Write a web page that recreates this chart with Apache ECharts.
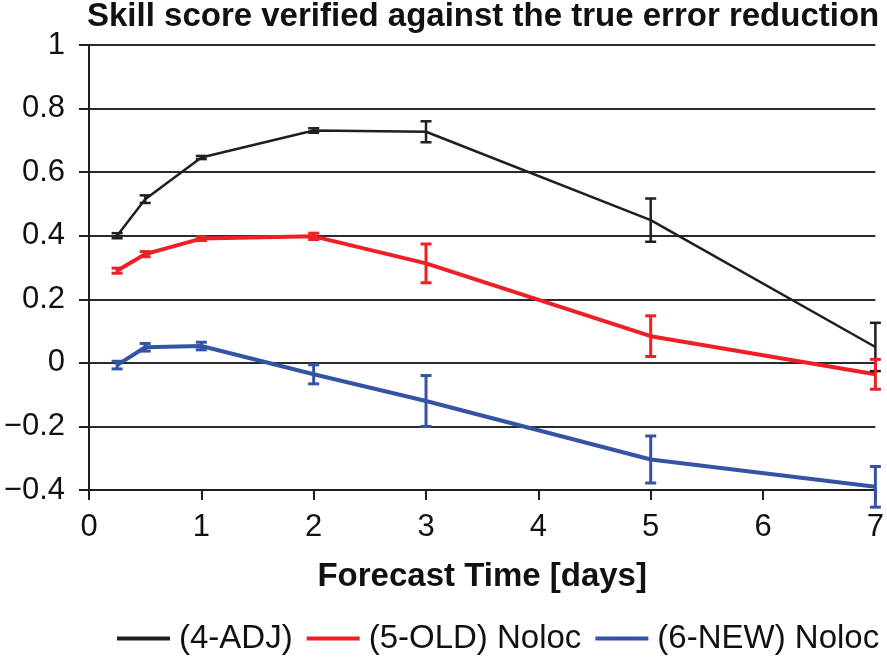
<!DOCTYPE html>
<html>
<head>
<meta charset="utf-8">
<script src="https://cdn.jsdelivr.net/npm/echarts@6/dist/echarts.min.js"></script>
<style>
  html, body { margin: 0; padding: 0; background: #fff; }
  #chart { width: 887px; height: 659px; }
</style>
</head>
<body>
<div id="chart"></div>
<script>
// 预报时间 (days)
const days = [0.25, 0.5, 1, 2, 3, 5, 7];
const seriesNames = ['(4-ADJ)', '(5-OLD) Noloc', '(6-NEW) Noloc'];
const colors = ['#1f1f1f', '#ee1f25', '#3453a4'];
const lineWidths = [2.5, 4, 4];

// skill score values
const adj = [0.40, 0.515, 0.646, 0.731, 0.727, 0.449, 0.05];
const oldNoloc = [0.29, 0.342, 0.391, 0.398, 0.313, 0.084, -0.036];
const newNoloc = [-0.007, 0.049, 0.053, -0.036, -0.12, -0.304, -0.39];

// error bar half widths
const adjErr = [0.008, 0.012, 0.005, 0.007, 0.033, 0.068, 0.076];
const oldErr = [0.008, 0.008, 0.006, 0.01, 0.061, 0.064, 0.047];
const newErr = [0.012, 0.012, 0.012, 0.03, 0.08, 0.074, 0.064];

const yTicks = [-0.4, 1, 0.2];

(function () {
    let myChart = echarts.init(document.getElementById('chart'));
    const values = [adj, oldNoloc, newNoloc];
    const errs = [adjErr, oldErr, newErr];

    let series = [];
    values.forEach(function (vals, i) {
        series.push({
            name: seriesNames[i],
            type: 'line',
            data: days.map(function (d, k) { return [d, vals[k]]; }),
            showSymbol: false,
            symbol: 'none',
            lineStyle: { color: colors[i], width: lineWidths[i] },
            itemStyle: { color: colors[i] },
            z: 3
        });
    });
    // 误差棒
    errs.forEach(function (e, i) {
        series.push({
            name: seriesNames[i],
            type: 'custom',
            clip: false,
            z: 4,
            data: days.map(function (d, k) {
                return [d, values[i][k] - e[k], values[i][k] + e[k]];
            }),
            renderItem: function (params, api) {
                const lo = api.coord([api.value(0), api.value(1)]);
                const hi = api.coord([api.value(0), api.value(2)]);
                const hw = 5.5;
                const style = { stroke: colors[i], lineWidth: i === 0 ? 2.5 : 3 };
                return {
                    type: 'group',
                    children: [
                        { type: 'line', shape: { x1: lo[0], y1: lo[1], x2: hi[0], y2: hi[1] }, style: style },
                        { type: 'line', shape: { x1: lo[0] - hw, y1: lo[1], x2: lo[0] + hw, y2: lo[1] }, style: style },
                        { type: 'line', shape: { x1: hi[0] - hw, y1: hi[1], x2: hi[0] + hw, y2: hi[1] }, style: style }
                    ]
                };
            }
        });
    });

    let option = {
        animation: false,
        textStyle: { fontFamily: 'Liberation Sans, Arial, sans-serif' },
        title: {
            text: 'Skill score verified against the true error reduction',
            left: 82,
            top: -5,
            textStyle: { fontSize: 33, fontWeight: 'bold', color: '#111', fontFamily: 'Liberation Sans' }
        },
        grid: { left: 89, right: 9, top: 45, bottom: 169 },
        legend: {
            top: 617,
            left: 112,
            itemWidth: 53,
            itemHeight: 4,
            itemGap: 14,
            icon: 'rect',
            data: seriesNames,
            textStyle: { fontSize: 33, color: '#111', fontFamily: 'Liberation Sans', padding: [0, 0, 0, 4] }
        },
        xAxis: {
            type: 'value',
            min: 0,
            max: 7,
            interval: 1,
            name: 'Forecast Time [days]',
            nameLocation: 'middle',
            nameGap: 70,
            nameTextStyle: { fontSize: 33, fontWeight: 'bold', color: '#111' },
            axisLine: { onZero: false, lineStyle: { color: '#1f1f1f', width: 2 } },
            axisTick: { show: true, length: 10, lineStyle: { color: '#1f1f1f', width: 2 } },
            axisLabel: { fontSize: 31, color: '#111', margin: 22 },
            splitLine: { show: false }
        },
        yAxis: {
            type: 'value',
            min: yTicks[0],
            max: yTicks[1],
            interval: yTicks[2],
            axisLine: { show: true, lineStyle: { color: '#1f1f1f', width: 2 } },
            axisTick: { show: true, length: 10, lineStyle: { color: '#1f1f1f', width: 2 } },
            axisLabel: {
                fontSize: 31,
                color: '#111',
                margin: 24,
                formatter: function (v) {
                    const r = Math.round(v * 10) / 10;
                    return r < 0 ? '\u2212' + String(-r) : String(r);
                }
            },
            splitLine: { show: true, lineStyle: { color: '#2a2a2a', width: 2 } }
        },
        series: series
    };

    myChart.setOption(option);
    window.addEventListener('resize', function () {
        myChart.resize();
    });
})();
</script>
</body>
</html>
